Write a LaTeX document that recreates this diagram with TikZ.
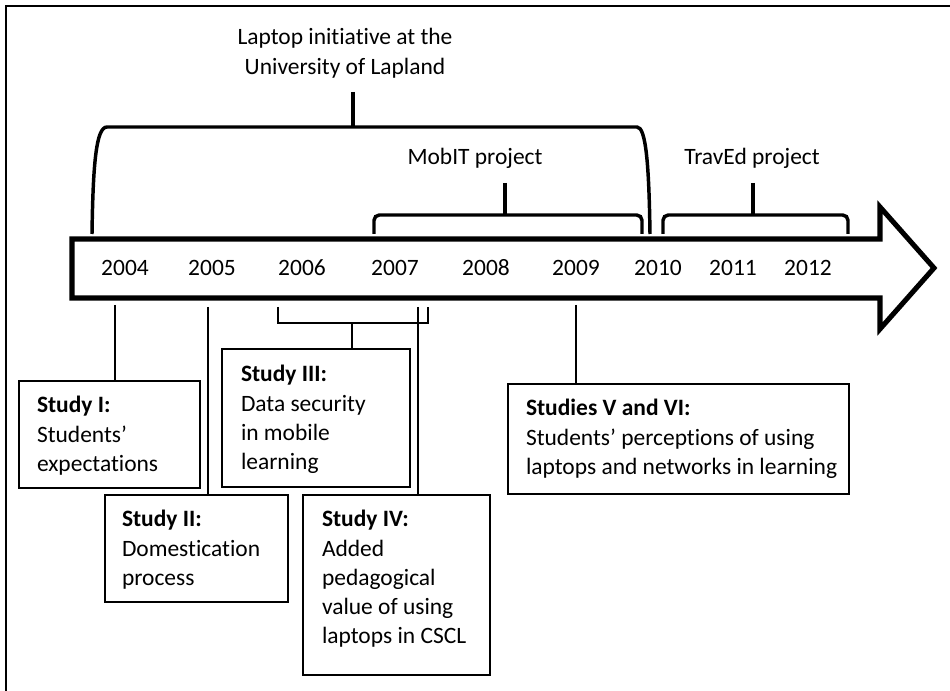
\documentclass[tikz,border=0pt]{standalone}
\usepackage{fontspec}
\setmainfont{Carlito}[Ligatures=NoCommon]
\usetikzlibrary{calc}

% left- and centre-aligned line stacks whose baseline is the first line
\newcommand\leftlines[1]{\vtop{\baselineskip=21.9pt\halign{##\hfil\cr#1\crcr}}}
\newcommand\centerlines[1]{\vtop{\baselineskip=21.9pt\halign{\hfil##\hfil\cr#1\crcr}}}

\begin{document}
\begin{tikzpicture}[x=0.75pt, y=-0.75pt,
  every node/.style={inner sep=0pt, outer sep=0pt, font=\fontsize{17.6}{21.9}\selectfont},
  year/.style={anchor=base},
  label text/.style={anchor=base west},
  studybox/.style={draw, line width=1.5pt, rectangle, anchor=north west},
  bracket/.style={line width=2.6pt, line cap=butt},
  stem/.style={line width=2.9pt},
  connector/.style={line width=1.5pt},
]
\useasboundingbox (0,0) rectangle (950,691);
\clip (0,0) rectangle (950,691);

% outer frame (runs past the right and bottom edges)
\draw[line width=1.7pt] (6,6) rectangle (1000,800);

% timeline arrow
\draw[line width=3.8pt, line join=miter, miter limit=10]
  (72,239) -- (880,239) -- (880,207) -- (934,268) -- (880,329) -- (880,298) -- (72,298) -- cycle;

% years
\node[year] (y2004) at (125,276) {2004};
\node[year] (y2005) at (212,276) {2005};
\node[year] (y2006) at (302,276) {2006};
\node[year] (y2007) at (395,276) {2007};
\node[year] (y2008) at (486,276) {2008};
\node[year] (y2009) at (576,276) {2009};
\node[year] (y2010) at (658,276) {2010};
\node[year] (y2011) at (733,276) {2011};
\node[year] (y2012) at (808,276) {2012};

% Laptop initiative bracket
\node[anchor=base] (lap) at (345,45) {\centerlines{Laptop initiative at the\cr University of Lapland}};
\coordinate (lapTop) at (353,92);
\coordinate (lapMid) at (353,127);
\coordinate (lapL) at (92,234);
\coordinate (lapR) at (650,234);
\draw[stem] (lapTop) -- (lapMid);
\draw[bracket] (lapL) .. controls (93,165) and (96,127) .. (107,127) -- (lapMid)
  -- (637,127) .. controls (646,127) and (649,165) .. (lapR);

% MobIT project bracket
\node[anchor=base] (mobit) at (475,165) {MobIT project};
\coordinate (mobTop) at (505,183);
\coordinate (mobMid) at (505,215);
\coordinate (mobL) at (374,234);
\coordinate (mobR) at (642,234);
\draw[stem] (mobTop) -- (mobMid);
\draw[bracket, rounded corners=4pt] (mobL) -- (374,215) -- (mobMid) -- (642,215) -- (mobR);

% TravEd project bracket
\node[anchor=base] (travel) at (752,165) {TravEd project};
\coordinate (travTop) at (753,183);
\coordinate (travMid) at (753,215);
\coordinate (travL) at (663,234);
\coordinate (travR) at (848,234);
\draw[stem] (travTop) -- (travMid);
\draw[bracket, rounded corners=4pt] (travL) -- (663,215) -- (travMid) -- (848,215) -- (travR);

% study boxes
\node[studybox, minimum width=135.75pt, minimum height=80.25pt] (s1) at (19,381) {};
\node[studybox, minimum width=137.25pt, minimum height=80.25pt] (s2) at (105,495) {};
\node[studybox, minimum width=141pt, minimum height=103.5pt] (s3) at (222,349) {};
\node[studybox, minimum width=140.25pt, minimum height=135pt] (s4) at (303,495) {};
\node[studybox, minimum width=255.75pt, minimum height=82.5pt] (s5) at (508,384) {};

% study texts
\node[label text] (s1t) at (37,413) {\leftlines{\textbf{Study I:}\cr Students’\cr expectations}};
\node[label text] (s2t) at (122,527) {\leftlines{\textbf{Study II:}\cr Domestication\cr process}};
\node[label text] (s3t) at (241,382) {\leftlines{\textbf{Study III:}\cr Data security\cr in mobile\cr learning}};
\node[label text] (s4t) at (322,527) {\leftlines{\textbf{Study IV:}\cr Added\cr pedagogical\cr value of using\cr laptops in CSCL}};
\node[label text] (s5t) at (526,416) {\leftlines{\textbf{Studies V and VI:}\cr Students’ perceptions of using\cr laptops and networks in learning}};

% connectors from the timeline to the studies
\coordinate (c1) at (115,305);
\coordinate (c2) at (208,307);
\coordinate (c4) at (418,307);
\coordinate (c5) at (576,305);
\draw[connector] (c1) -- (c1 |- s1.north);
\draw[connector] (c2) -- (c2 |- s2.north);
\draw[connector] (c4) -- (c4 |- s4.north);
\draw[connector] (c5) -- (c5 |- s5.north);

% Study III spans 2006--2007
\coordinate (b3L) at (278,307);
\coordinate (b3R) at (428,307);
\coordinate (b3Mid) at (352,323);
\draw[connector] (b3L) -- (278,323) -- (b3Mid) -- (428,323) -- (b3R);
\draw[connector] (b3Mid) -- (b3Mid |- s3.north);

\end{tikzpicture}
\end{document}
